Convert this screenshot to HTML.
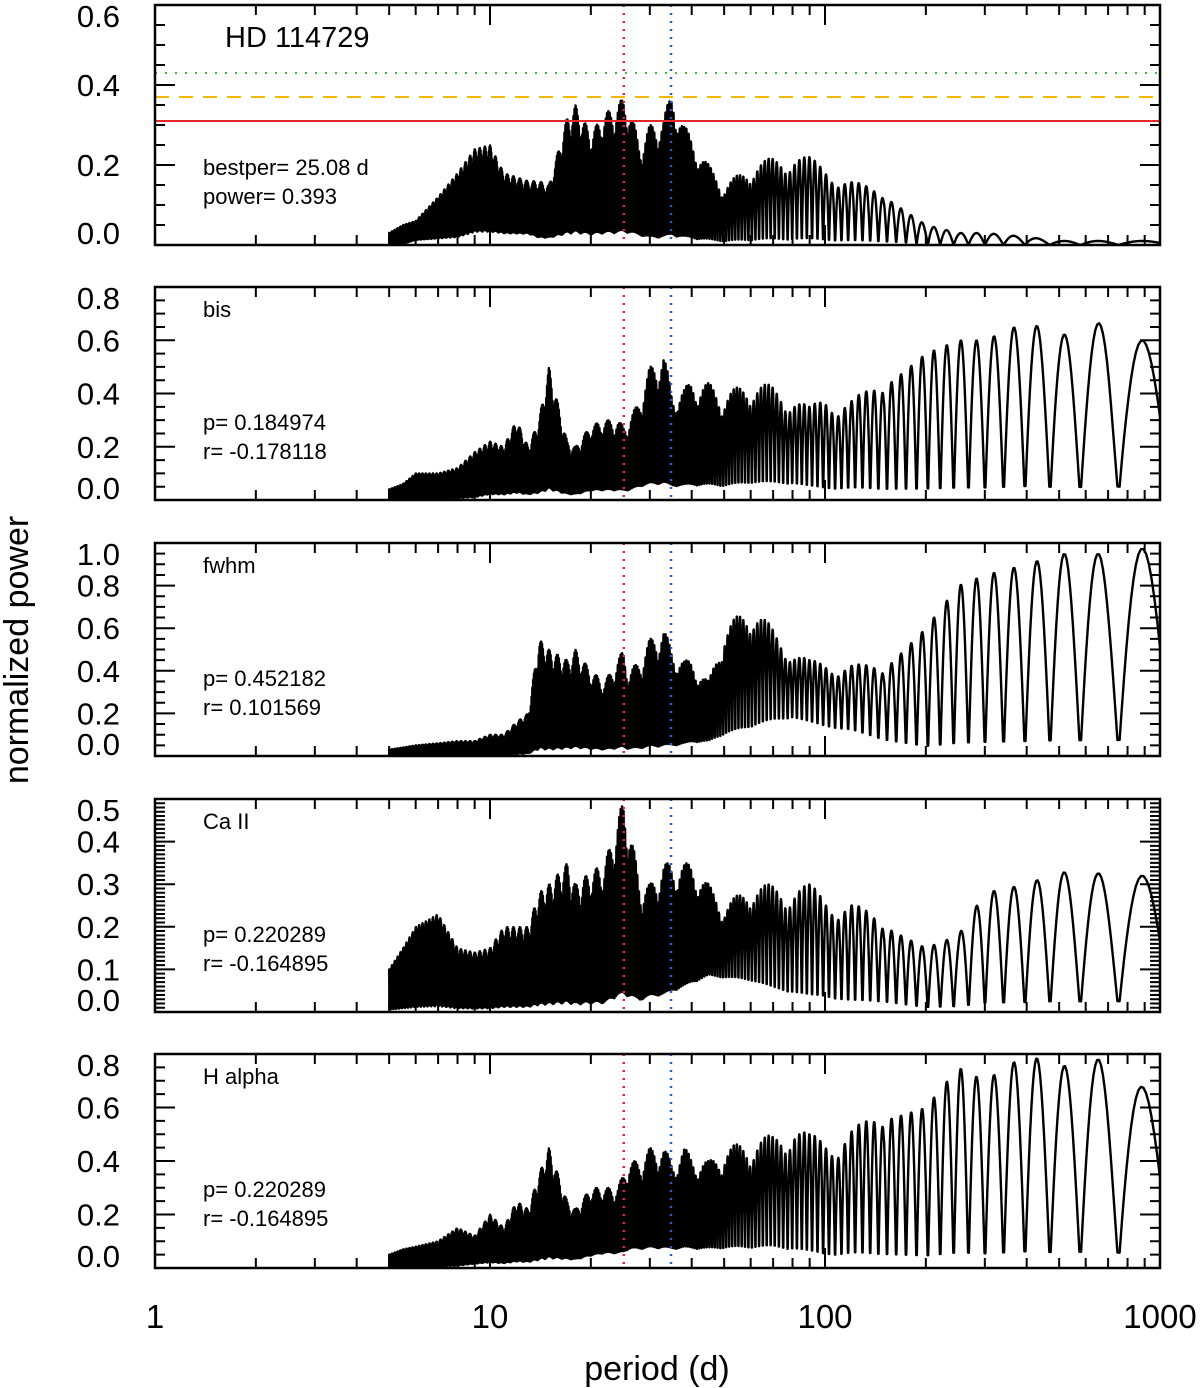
<!DOCTYPE html>
<html><head><meta charset="utf-8"><style>
html,body{margin:0;padding:0;background:#fff;}
svg{display:block;font-family:"Liberation Sans",sans-serif;}
</style></head><body>
<svg id="chart" width="1200" height="1388" viewBox="0 0 1200 1388"></svg>
<script>
const periods=[5,5.5,6,7,8,9,10,11,12,13,14,15,17,18,20,22,24,25,26,28,30,33,35,38,40,45,50,60,70,80,90,100,120,150,200,250,300,400,500,600,700,800,1000];
const hdUpper=[.03,.05,.06,.12,.18,.24,.25,.18,.17,.16,.16,.15,.32,.35,.28,.33,.35,.37,.35,.25,.3,.32,.39,.3,.27,.2,.15,.2,.22,.23,.22,.2,.17,.12,.05,.03,.03,.02,.01,.01,.01,.01,.01];
const hdLower=[0,0,.01,.01,.01,.02,.02,.02,.02,.02,.01,.01,.01,.01,.01,.01,.01,.01,.01,.01,0,0,0,0,0,0,0,0,0,0,0,0,0,0,0,0,0,0,0,0,0,0,0];
const bisUpper=[.04,.06,.1,.1,.12,.18,.22,.2,.3,.2,.3,.5,.22,.2,.28,.3,.3,.28,.3,.38,.5,.55,.4,.42,.45,.44,.4,.45,.43,.4,.35,.4,.4,.42,.55,.6,.6,.67,.62,.63,.69,.6,.6];
const bisLower=[0,0,0,0,0,0,.01,.01,.01,.01,.01,.01,.01,.01,.02,.02,.02,.02,.02,.03,.03,.03,.03,.03,.03,.03,.03,.04,.04,.04,.03,.02,.02,.01,0,0,0,0,0,0,0,0,0];
const fwhmUpper=[.03,.04,.05,.06,.07,.07,.1,.1,.16,.2,.55,.5,.45,.5,.4,.35,.45,.5,.4,.45,.55,.6,.5,.45,.45,.35,.6,.72,.6,.5,.45,.45,.45,.4,.6,.8,.85,.9,.95,.95,.95,.97,.98];
const fwhmLower=[0,0,0,0,0,0,0,0,0,0,0,0,.01,.01,.01,.01,.01,.01,.01,.01,.01,.01,.02,.03,.04,.05,.07,.1,.14,.16,.14,.12,.1,.05,0,0,0,0,0,0,0,0,0];
const caUpper=[.1,.15,.2,.23,.15,.14,.15,.2,.2,.2,.28,.3,.35,.3,.33,.35,.45,.5,.45,.3,.3,.35,.35,.35,.35,.3,.25,.3,.3,.3,.3,.28,.27,.2,.15,.18,.28,.3,.33,.32,.33,.32,.32];
const caLower=[0,0,0,0,0,0,0,0,0,0,0,0,0,0,0,0,.01,.01,.01,.01,.02,.02,.03,.04,.05,.07,.07,.06,.04,.03,.02,.02,.01,.01,0,0,0,0,0,0,0,0,0];
const haUpper=[.05,.07,.08,.1,.15,.12,.2,.15,.25,.22,.35,.45,.25,.22,.3,.3,.3,.35,.4,.4,.45,.45,.4,.45,.42,.4,.45,.48,.5,.55,.5,.5,.55,.55,.6,.75,.7,.8,.75,.78,.78,.7,.65];
const haLower=[0,0,0,0,0,.01,.01,.01,.01,.01,.01,.01,.02,.02,.03,.04,.04,.04,.05,.05,.05,.05,.05,.05,.05,.05,.05,.05,.05,.04,.03,.02,.02,.01,0,0,0,0,0,0,0,0,0];
const xTickLabels=["1","10","100","1000"];
const panelLabels=["HD 114729","bis","fwhm","Ca II","H alpha"];
const noteLines=[["bestper= 25.08 d","power= 0.393"],["p= 0.184974","r= -0.178118"],["p= 0.452182","r= 0.101569"],["p= 0.220289","r= -0.164895"],["p= 0.220289","r= -0.164895"]];
const yMax=[0.6,0.8,1.0,0.5,0.8];
const yLabelStep=[0.2,0.2,0.2,0.1,0.2];
const yMinorStep=[0.05,0.05,0.05,0.01,0.05];
const thresholds=[0.31,0.37,0.43];
const markPeriods=[25.08,34.7];

const NS="http://www.w3.org/2000/svg";
const svg=document.getElementById('chart');
const X0=155,X1=1160;
const panels=[[5,245],[287,500],[543,756],[799,1012],[1054,1268]];
const uppers=[hdUpper,bisUpper,fwhmUpper,caUpper,haUpper];
const lowers=[hdLower,bisLower,fwhmLower,caLower,haLower];
const names=["hd114729","bis","fwhm","ca-ii","h-alpha"];
function xs(p){return X0+(X1-X0)*Math.log10(p)/3;}
function mk(tag,attrs,parent){const e=document.createElementNS(NS,tag);for(const k in attrs)e.setAttribute(k,attrs[k]);(parent||svg).appendChild(e);return e;}
function interp(arr,p){const lp=Math.log(p);if(p<=periods[0])return arr[0];for(let i=1;i<periods.length;i++){if(p<=periods[i]){const a=Math.log(periods[i-1]),b=Math.log(periods[i]);const t=(lp-a)/(b-a);return arr[i-1]+(arr[i]-arr[i-1])*t;}}return arr[arr.length-1];}
const defs=mk('defs',{});
panels.forEach((pn,k)=>{
  const [top,bot]=pn;
  const g=mk('g',{});
  
  
  const ys=v=>bot-(bot-top)*v/yMax[k];
  const cp=mk('clipPath',{id:'cp'+k},defs);
  mk('rect',{x:X0,y:top,width:X1-X0,height:bot-top},cp);
  let d='';const df=0.0004,ph=0.00013;
  for(let f=0.2;f>=0.00099;f-=0.00002){
    const p=1/f;const u=interp(uppers[k],p),l=interp(lowers[k],p);
    const s=Math.abs(Math.sin(Math.PI*(f-ph)/df));
    const sub=0.75+0.25*Math.abs(Math.cos(Math.PI*f/0.0037));
    const v=l+(u-l)*s*(p<150?sub:1);
    d+=(d?'L':'M')+xs(p).toFixed(2)+','+ys(v).toFixed(2);
  }
  const line=mk('path',{d:d,fill:'none',stroke:'#000','stroke-width':2.4,'stroke-linejoin':'round','clip-path':'url(#cp'+k+')'},g);
  
  
  if(k===0){
    const cols=['#e8262a','#f5b800','#3fba3f'],dash=['none','14,10','2,8'];
    thresholds.forEach((t,i)=>{const l=mk('line',{x1:X0,x2:X1,y1:ys(t),y2:ys(t),stroke:cols[i],'stroke-width':2,'stroke-dasharray':dash[i]},g);
      
      });
  }
  const mc=['#e8262a','#2a5bd0'];
  markPeriods.forEach((p,i)=>{const l=mk('line',{x1:xs(p),x2:xs(p),y1:top,y2:bot,stroke:mc[i],'stroke-width':2.5,'stroke-dasharray':'2,6'},g);
    
    });
  const fr=mk('rect',{x:X0,y:top,width:X1-X0,height:bot-top,fill:'none',stroke:'#000','stroke-width':2.5},g);
  
  
  let td='';
  for(let dec=0;dec<3;dec++)for(let m=1;m<=9;m++){const p=m*Math.pow(10,dec);const x=xs(p);const L=m===1?20:10;if(m===1&&dec===0)continue;td+=`M${x},${bot}v${-L}M${x},${top}v${L}`;}
  const n=Math.round(yMax[k]/yMinorStep[k]);
  for(let i=1;i<n;i++){const v=i*yMinorStep[k];const y=ys(v);const maj=Math.abs(v/yLabelStep[k]-Math.round(v/yLabelStep[k]))<1e-6;const L=maj?20:10;td+=`M${X0},${y}h${L}M${X1},${y}h${-L}`;}
  const tk=mk('path',{d:td,stroke:'#000','stroke-width':2,fill:'none'},g);
  
  
  const nl=Math.round(yMax[k]/yLabelStep[k]);
  for(let i=0;i<=nl;i++){const v=i*yLabelStep[k];let y=ys(v)+11;if(i===0)y=bot-1;if(i===nl)y=top+22;
    const t=mk('text',{x:120,y:y,'font-size':31,'text-anchor':'end'},g);t.textContent=v.toFixed(1);
    
    }
  const lab=mk('text',{x:k===0?225:203,y:k===0?top+42:top+30,'font-size':k===0?29:22},g);lab.textContent=panelLabels[k];
  
  
  noteLines[k].forEach((s,i)=>{const t=mk('text',{x:203,y:(k===0?top+170:top+143)+i*29,'font-size':22},g);t.textContent=s;
    
    });
});
xTickLabels.forEach((s,i)=>{const t=mk('text',{x:xs(Math.pow(10,i)),y:1328,'font-size':33,'text-anchor':'middle'});t.textContent=s;
  
  });
const xt=mk('text',{x:657,y:1380,'font-size':34,'text-anchor':'middle'});xt.textContent='period (d)';


const yt=mk('text',{x:0,y:0,'font-size':34,'text-anchor':'middle',transform:'translate(28,650) rotate(-90)'});yt.textContent='normalized power';


</script>
</body></html>
